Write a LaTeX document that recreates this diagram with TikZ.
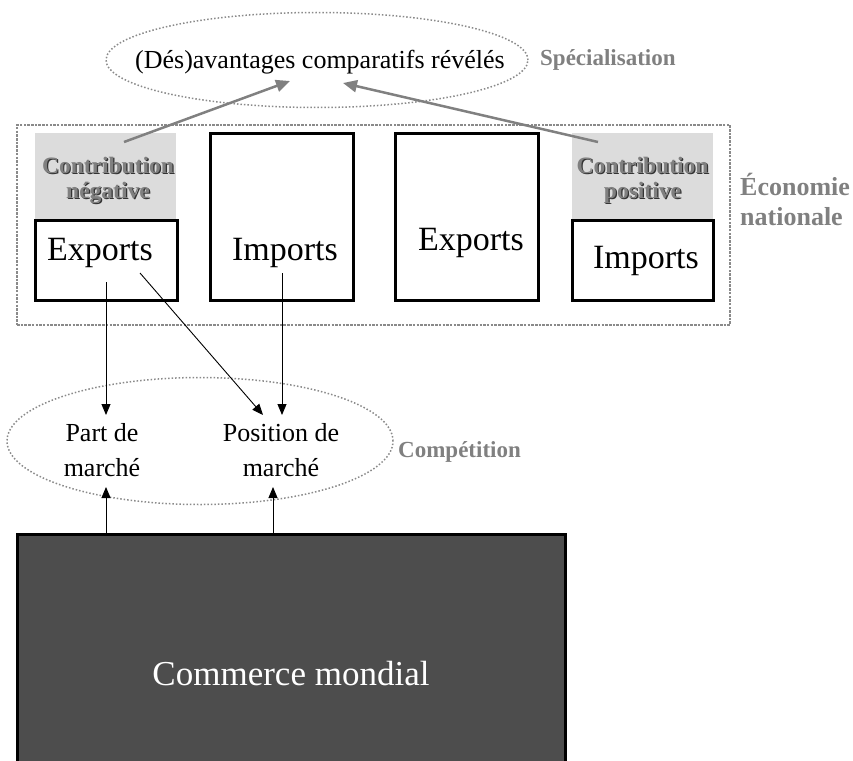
\documentclass[tikz,border=0pt]{standalone}
\usepackage{fontspec}
\setmainfont{Liberation Serif}
\usetikzlibrary{arrows.meta,shapes.geometric}
\definecolor{lblgray}{HTML}{808080}
\definecolor{dotgray}{HTML}{8A8A8A}
\definecolor{contribfill}{HTML}{DCDCDC}
\definecolor{worldfill}{HTML}{4D4D4D}
\newcommand{\shadowtxt}[1]{\makebox[0pt][l]{\hspace{1.2pt}\raisebox{-1.2pt}{\color{black!80}#1}}{\color{lblgray}#1}}
\begin{document}
\begin{tikzpicture}[x=1pt,y=-1pt,
  txt/.style={inner sep=0pt,font=\fontsize{26}{30}\selectfont},
  bigtxt/.style={inner sep=0pt,font=\fontsize{34}{40}\selectfont},
  lbl/.style={inner sep=0pt,text=lblgray,font=\bfseries\fontsize{23}{27}\selectfont},
  lblbig/.style={inner sep=0pt,text=lblgray,font=\bfseries\fontsize{26}{30}\selectfont},
  ctxt/.style={inner sep=0pt,font=\bfseries\fontsize{23.5}{27}\selectfont},
  ell/.style={ellipse,draw=dotgray,line width=1.5pt,dash pattern=on 1.5pt off 2pt,inner sep=0pt},
  econbox/.style={rectangle,draw=dotgray,line width=2.5pt,dash pattern=on 2.5pt off 1.2pt,inner sep=0pt},
  contribbox/.style={rectangle,fill=contribfill,inner sep=0pt},
  bx/.style={rectangle,draw=black,line width=3pt,inner sep=0pt},
  garrow/.style={draw=lblgray,line width=2.5pt,-{Triangle[length=14pt,width=12pt]}},
  barrow/.style={draw=black,line width=0.9pt,-{Triangle[length=11pt,width=9pt]}}
]
\useasboundingbox (0,0) rectangle (853,760);

% top ellipse
\node[ell,minimum width=422pt,minimum height=95pt] (adv) at (317,60) {};
\node[txt,anchor=base] (advT) at (320,68) {(Dés)avantages comparatifs révélés};
\node[lbl,anchor=base west] (spec) at (540,65) {Spécialisation};

% national economy frame
\node[econbox,minimum width=713pt,minimum height=200pt] (econ) at (373.5,225) {};
\node[lblbig,anchor=base west] (econA) at (740,195) {Économie};
\node[lblbig,anchor=base west] (econB) at (740,225) {nationale};

% contribution boxes
\node[contribbox,minimum width=141pt,minimum height=87pt] (cN) at (105.5,176.5) {};
\node[ctxt,anchor=base] (cNa) at (108,173) {\shadowtxt{Contribution}};
\node[ctxt,anchor=base] (cNb) at (108,198) {\shadowtxt{négative}};
\node[contribbox,minimum width=141pt,minimum height=87pt] (cP) at (642.5,176.5) {};
\node[ctxt,anchor=base] (cPa) at (642.5,173) {\shadowtxt{Contribution}};
\node[ctxt,anchor=base] (cPb) at (642.5,198) {\shadowtxt{positive}};

% boxes
\node[bx,minimum width=142pt,minimum height=80pt] (expN) at (106,260) {};
\node[bigtxt,anchor=base] (expNt) at (100,260) {Exports};
\node[bx,minimum width=143pt,minimum height=167pt] (impA) at (281.5,216.5) {};
\node[bigtxt,anchor=base] (impAt) at (285,260) {Imports};
\node[bx,minimum width=143pt,minimum height=167pt] (expB) at (466.5,216.5) {};
\node[bigtxt,anchor=base] (expBt) at (471,250) {Exports};
\node[bx,minimum width=141pt,minimum height=80pt] (impP) at (642.5,260) {};
\node[bigtxt,anchor=base] (impPt) at (646,268) {Imports};

% gray arrows
\coordinate (gAs) at (124,142);
\coordinate (gAe) at (290,81);
\coordinate (gBs) at (598,142);
\coordinate (gBe) at (343,83);
\draw[garrow] (gAs) -- (gAe);
\draw[garrow] (gBs) -- (gBe);

% competition ellipse
\node[ell,minimum width=386pt,minimum height=127pt] (comp) at (200,441) {};
\node[lbl,anchor=base west] (compL) at (398,457) {Compétition};
\node[txt,anchor=base] (partA) at (102,441) {Part de};
\node[txt,anchor=base] (partB) at (102,476) {marché};
\node[txt,anchor=base] (posA) at (281,441) {Position de};
\node[txt,anchor=base] (posB) at (281,476) {marché};

% world trade
\node[rectangle,draw=black,line width=3pt,fill=worldfill,minimum width=548pt,minimum height=232pt,inner sep=0pt] (world) at (291,650) {};
\node[inner sep=0pt,text=white,font=\fontsize{35}{40}\selectfont,anchor=base] (worldT) at (291,685) {Commerce mondial};

% black arrows
\coordinate (e1s) at (106,282);
\coordinate (e1e) at (106,415);
\coordinate (e2s) at (140,273);
\coordinate (e2e) at (263,415);
\coordinate (i1s) at (282,273);
\coordinate (i1e) at (282,415);
\coordinate (u1s) at (106,533);
\coordinate (u1e) at (106,487);
\coordinate (u2s) at (273,533);
\coordinate (u2e) at (273,487);
\draw[barrow] (e1s) -- (e1e);
\draw[barrow] (e2s) -- (e2e);
\draw[barrow] (i1s) -- (i1e);
\draw[barrow] (u1s) -- (u1e);
\draw[barrow] (u2s) -- (u2e);
\end{tikzpicture}
\end{document}
